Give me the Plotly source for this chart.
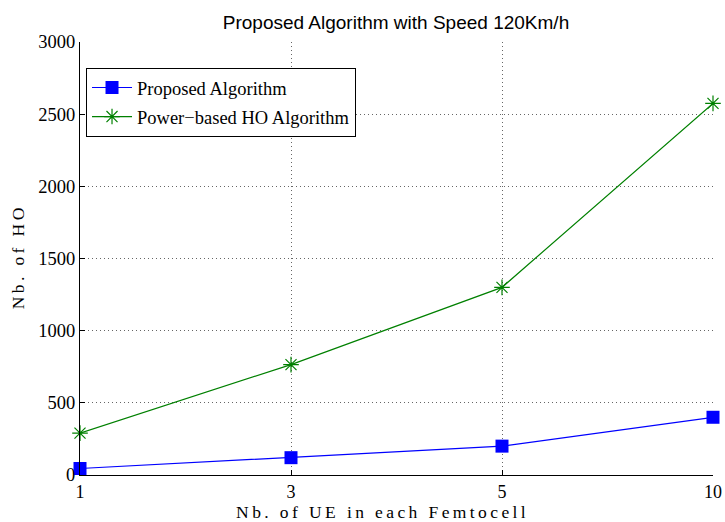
import plotly.graph_objects as go

# Number of UEs per femtocell (evenly spaced categories on the x axis)
ue_counts = ["1", "3", "5", "10"]
# Handover counts for each algorithm
proposed_ho = [45, 120, 200, 400]
power_based_ho = [290, 765, 1300, 2575]

y_ticks = [0, 500, 1000, 1500, 2000, 2500, 3000]

serif = "Liberation Serif, Times New Roman, serif"
sans = "Liberation Sans, Arial, Helvetica, sans-serif"

fig = go.Figure()
fig.add_trace(go.Scatter(
    x=ue_counts, y=proposed_ho, name="Proposed Algorithm",
    mode="lines+markers", legendgroup="a",
    line=dict(color="#0000ff", width=1.2),
    marker=dict(symbol="square", size=13, color="#0000ff"),
    cliponaxis=False,
))
fig.add_trace(go.Scatter(
    x=ue_counts, y=power_based_ho, name="Power\u2212based HO Algorithm",
    mode="lines+markers", legendgroup="b",
    line=dict(color="#008000", width=1.2),
    marker=dict(symbol="asterisk-open", size=13, color="#008000",
                line=dict(color="#008000", width=1.2)),
    cliponaxis=False,
))

grid_dash = "1px,3px"
fig.update_layout(
    width=725, height=522,
    margin=dict(l=80, r=12, t=42, b=47),
    paper_bgcolor="white", plot_bgcolor="white",
    title=dict(text="Proposed Algorithm with Speed 120Km/h",
               font=dict(family=sans, size=19, color="black"),
               x=396 / 725, xanchor="center", y=1 - 22 / 522, yanchor="middle"),
    showlegend=True,
    legend=dict(x=0.0095, y=0.94, xanchor="left", yanchor="top",
                bgcolor="white", bordercolor="black", borderwidth=1,
                font=dict(family=serif, size=18.5, color="black"),
                tracegroupgap=2, itemwidth=40),
    xaxis=dict(
        type="category", categoryorder="array", categoryarray=ue_counts,
        range=[0, 3], automargin=False,
        showgrid=True, gridcolor="#666", griddash=grid_dash, gridwidth=1,
        showline=True, linecolor="black", linewidth=1,
        ticks="inside", ticklen=5, tickcolor="black",
        tickfont=dict(family=serif, size=18, color="black"),
        zeroline=False,
    ),
    yaxis=dict(
        range=[0, 3000], tickvals=y_ticks, automargin=False,
        showgrid=True, gridcolor="#666", griddash=grid_dash, gridwidth=1,
        showline=True, linecolor="black", linewidth=1,
        ticks="inside", ticklen=5, tickcolor="black",
        tickfont=dict(family=serif, size=18.5, color="black"),
        zeroline=False,
    ),
    annotations=[
        dict(text="Nb. of UE in each Femtocell", xref="paper", yref="paper",
             x=(382 - 80) / 633, y=-(512 - 475) / 433,
             xanchor="center", yanchor="middle", showarrow=False,
             borderpad=0,
             font=dict(family=serif, size=17.5, color="black")),
        dict(text="Nb. of HO", xref="paper", yref="paper",
             x=-(80 - 18) / 633, y=(475 - 257) / 433, textangle=-90,
             xanchor="center", yanchor="middle", showarrow=False,
             borderpad=0,
             font=dict(family=serif, size=17.5, color="black")),
    ],
)

spacing_js = """
var gd = document.querySelector('.plotly-graph-div');
function spaceTitles(){
  document.querySelectorAll('.annotation-text').forEach(function(e){
    e.style.letterSpacing = '3.4px';
  });
}
spaceTitles();
gd.on('plotly_afterplot', spaceTitles);
"""

fig.write_html("out.html", post_script=spacing_js)
